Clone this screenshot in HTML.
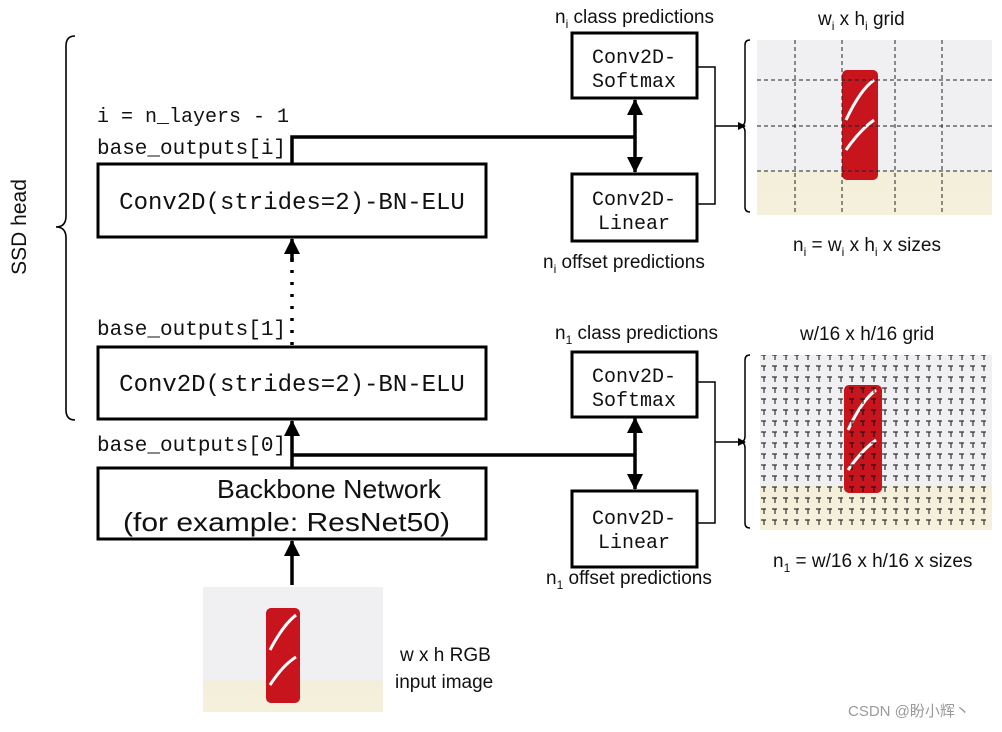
<!DOCTYPE html>
<html><head><meta charset="utf-8"><style>
body{margin:0;background:#fff}
svg text{font-family:"Liberation Sans",sans-serif;fill:#111}
.m{font-family:"Liberation Mono",monospace}
</style></head><body>
<svg width="1002" height="727" viewBox="0 0 1002 727" xmlns="http://www.w3.org/2000/svg">
<defs>
<marker id="a" markerWidth="8" markerHeight="8" refX="7" refY="4" orient="auto" markerUnits="userSpaceOnUse"><path d="M0,0 L8,4 L0,8Z" fill="#000"/></marker>
<marker id="b" markerWidth="16" markerHeight="16" refX="15" refY="8" orient="auto" markerUnits="userSpaceOnUse"><path d="M0,0 L16,8 L0,16Z" fill="#000"/></marker>
<pattern id="g" width="11" height="11" patternUnits="userSpaceOnUse"><path d="M2,3 h5 M5,3 v5" stroke="#111" stroke-width="1.2"/></pattern>
<linearGradient id="bg" x1="0" y1="0" x2="0" y2="1"><stop offset="0.75" stop-color="#f0f0f2"/><stop offset="0.75" stop-color="#f3efd9"/><stop offset="1" stop-color="#f5f0dc"/></linearGradient>
</defs>
<path d="M75,36 Q66,36 66,46 L66,216 Q66,227 56,227 Q66,227 66,238 L66,410 Q66,420 75,420" fill="none" stroke="#000" stroke-width="1.6"/>
<text x="26" y="227" font-size="21" transform="rotate(-90 26 227)" text-anchor="middle">SSD head</text>
<text class="m" x="97" y="122" font-size="20">i = n_layers - 1</text>
<text class="m" x="97" y="154" font-size="21">base_outputs[i]</text>
<text class="m" x="97" y="335" font-size="21">base_outputs[1]</text>
<text class="m" x="97" y="451" font-size="21">base_outputs[0]</text>
<rect x="98" y="164" width="388" height="73" fill="#fff" stroke="#000" stroke-width="3"/>
<text class="m" x="292" y="209" font-size="24" text-anchor="middle">Conv2D(strides=2)-BN-ELU</text>
<rect x="98" y="347" width="388" height="72" fill="#fff" stroke="#000" stroke-width="3"/>
<text class="m" x="292" y="391" font-size="24" text-anchor="middle">Conv2D(strides=2)-BN-ELU</text>
<rect x="98" y="468" width="388" height="71" fill="#fff" stroke="#000" stroke-width="3"/>
<text x="217" y="498" font-size="26" textLength="224" lengthAdjust="spacingAndGlyphs">Backbone Network</text>
<text x="123" y="531" font-size="26" textLength="327" lengthAdjust="spacingAndGlyphs">(for example: ResNet50)</text>
<line x1="292" y1="585" x2="292" y2="541" stroke="#000" stroke-width="3.5" marker-end="url(#b)"/>
<line x1="292" y1="467" x2="292" y2="421" stroke="#000" stroke-width="3.5" marker-end="url(#b)"/>
<line x1="292" y1="345" x2="292" y2="258" stroke="#000" stroke-width="3.5" stroke-dasharray="3,9"/>
<line x1="292" y1="262" x2="292" y2="239" stroke="#000" stroke-width="3.5" marker-end="url(#b)"/>
<polyline points="292,163 292,137 635,137" fill="none" stroke="#000" stroke-width="3.5"/>
<line x1="635" y1="137" x2="635" y2="100" stroke="#000" stroke-width="3.5" marker-end="url(#b)"/>
<line x1="635" y1="137" x2="635" y2="172" stroke="#000" stroke-width="3.5" marker-end="url(#b)"/>
<rect x="572" y="33" width="125" height="65" fill="#fff" stroke="#000" stroke-width="3"/>
<text class="m" x="634" y="63" font-size="20" text-anchor="middle">Conv2D-</text>
<text class="m" x="634" y="87" font-size="20" text-anchor="middle">Softmax</text>
<rect x="572" y="174" width="125" height="67" fill="#fff" stroke="#000" stroke-width="3"/>
<text class="m" x="634" y="205" font-size="20" text-anchor="middle">Conv2D-</text>
<text class="m" x="634" y="229" font-size="20" text-anchor="middle">Linear</text>
<polyline points="697,67 715,67 715,204 697,204" fill="none" stroke="#000" stroke-width="1.5"/>
<line x1="715" y1="126" x2="745" y2="126" stroke="#000" stroke-width="1.5" marker-end="url(#a)"/>
<path d="M750,40 Q745,40 745,45 L745,120 Q745,126 740,126 Q745,126 745,132 L745,207 Q745,212 750,212" fill="none" stroke="#000" stroke-width="1.5"/>
<text x="555" y="23" font-size="19">n<tspan font-size="12" dy="5">i</tspan><tspan dy="-5"> class predictions</tspan></text>
<text x="543" y="268" font-size="19">n<tspan font-size="12" dy="5">i</tspan><tspan dy="-5"> offset predictions</tspan></text>
<text x="818" y="25" font-size="19">w<tspan font-size="12" dy="5">i</tspan><tspan dy="-5"> x h</tspan><tspan font-size="12" dy="5">i</tspan><tspan dy="-5"> grid</tspan></text>
<text x="793" y="251" font-size="19">n<tspan font-size="12" dy="5">i</tspan><tspan dy="-5"> = w</tspan><tspan font-size="12" dy="5">i</tspan><tspan dy="-5"> x h</tspan><tspan font-size="12" dy="5">i</tspan><tspan dy="-5"> x sizes</tspan></text>
<rect x="757" y="40" width="235" height="175" fill="url(#bg)"/>
<rect x="842" y="70" width="36" height="110" rx="5" fill="#c8141c"/>
<path d="M846,120 q14,-30 28,-40 M846,150 q14,-20 28,-30" stroke="#fff" stroke-width="3" fill="none"/>
<g stroke="#222" stroke-width="1" stroke-dasharray="4,3">
<line x1="795" y1="40" x2="795" y2="215"/><line x1="842" y1="40" x2="842" y2="215"/><line x1="895" y1="40" x2="895" y2="215"/><line x1="942" y1="40" x2="942" y2="215"/>
<line x1="757" y1="80" x2="992" y2="80"/><line x1="757" y1="126" x2="992" y2="126"/><line x1="757" y1="171" x2="992" y2="171"/></g>
<line x1="292" y1="455" x2="635" y2="455" stroke="#000" stroke-width="3.5"/>
<line x1="635" y1="455" x2="635" y2="418" stroke="#000" stroke-width="3.5" marker-end="url(#b)"/>
<line x1="635" y1="455" x2="635" y2="489" stroke="#000" stroke-width="3.5" marker-end="url(#b)"/>
<rect x="572" y="352" width="125" height="65" fill="#fff" stroke="#000" stroke-width="3"/>
<text class="m" x="634" y="382" font-size="20" text-anchor="middle">Conv2D-</text>
<text class="m" x="634" y="406" font-size="20" text-anchor="middle">Softmax</text>
<rect x="572" y="491" width="125" height="76" fill="#fff" stroke="#000" stroke-width="3"/>
<text class="m" x="634" y="524" font-size="20" text-anchor="middle">Conv2D-</text>
<text class="m" x="634" y="548" font-size="20" text-anchor="middle">Linear</text>
<polyline points="697,382 715,382 715,523 697,523" fill="none" stroke="#000" stroke-width="1.5"/>
<line x1="715" y1="442" x2="745" y2="442" stroke="#000" stroke-width="1.5" marker-end="url(#a)"/>
<path d="M750,355 Q745,355 745,360 L745,436 Q745,442 740,442 Q745,442 745,448 L745,523 Q745,528 750,528" fill="none" stroke="#000" stroke-width="1.5"/>
<text x="555" y="339" font-size="19">n<tspan font-size="12" dy="5">1</tspan><tspan dy="-5"> class predictions</tspan></text>
<text x="546" y="584" font-size="19">n<tspan font-size="12" dy="5">1</tspan><tspan dy="-5"> offset predictions</tspan></text>
<text x="800" y="340" font-size="19">w/16 x h/16 grid</text>
<text x="773" y="567" font-size="19">n<tspan font-size="12" dy="5">1</tspan><tspan dy="-5"> = w/16 x h/16 x sizes</tspan></text>
<rect x="760" y="355" width="232" height="175" fill="url(#bg)"/>
<rect x="844" y="385" width="38" height="108" rx="5" fill="#c8141c"/>
<path d="M848,430 q14,-30 28,-40 M848,470 q14,-20 28,-30" stroke="#fff" stroke-width="3" fill="none"/>
<rect x="760" y="355" width="232" height="175" fill="url(#g)" opacity="0.85"/>
<rect x="203" y="587" width="180" height="125" fill="url(#bg)"/>
<rect x="266" y="608" width="34" height="95" rx="5" fill="#c8141c"/>
<path d="M270,650 q13,-25 26,-35 M270,685 q13,-20 26,-28" stroke="#fff" stroke-width="3" fill="none"/>
<text x="400" y="661" font-size="19">w x h RGB</text>
<text x="395" y="688" font-size="19">input image</text>
<text x="848" y="716" font-size="15" style="fill:#9a9a9a;font-family:'Liberation Sans','Noto Sans CJK SC',sans-serif">CSDN @盼小辉丶</text>
</svg>
</body></html>
